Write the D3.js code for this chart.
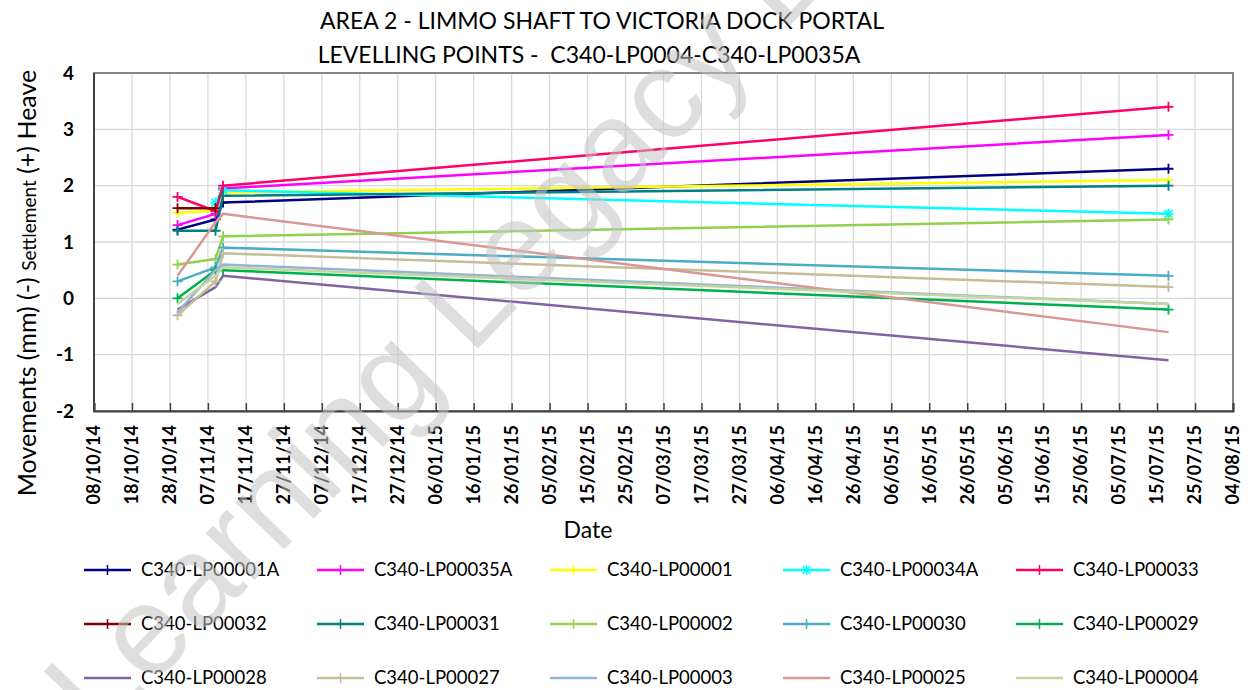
<!DOCTYPE html>
<html lang="en">
<head>
  <meta charset="UTF-8">
  <title>Area 2 - Limmo Shaft to Victoria Dock Portal</title>
  <script src="https://d3js.org/d3.v7.min.js"></script>
  <style>
    body { margin: 0; background: #fff; font-family: Lato, "Open Sans", sans-serif; }
    .grid line { stroke: #d9d9d9; stroke-width: 1.3; }
    .tick-label { font-size: 18px; font-weight: bold; fill: #000; }
    .legend text { font-size: 18.5px; fill: #000; }
  </style>
</head>
<body>
  <div id="chart"></div>
  <script>
    // survey dates and readings (mm)
    const dates = ["30/10/14", "09/11/14", "11/11/14", "18/07/15"];

    const seriesNames = [
      "C340-LP00001A", "C340-LP00035A", "C340-LP00001", "C340-LP00034A", "C340-LP00033",
      "C340-LP00032", "C340-LP00031", "C340-LP00002", "C340-LP00030", "C340-LP00029",
      "C340-LP00028", "C340-LP00027", "C340-LP00003", "C340-LP00025", "C340-LP00004"
    ];

    const lp00001A = [1.22, 1.40, 1.70, 2.30];
    const lp00035A = [1.30, 1.50, 1.95, 2.90];
    const lp00001  = [1.52, 1.55, 1.88, 2.10];
    const lp00034A = [null, 1.70, 1.92, 1.50];
    const lp00033  = [1.80, 1.55, 2.00, 3.40];
    const lp00032  = [1.60, 1.60, null, null];
    const lp00031  = [1.20, 1.20, 1.82, 2.00];
    const lp00002  = [0.60, 0.70, 1.10, 1.40];
    const lp00030  = [0.30, 0.55, 0.90, 0.40];
    const lp00029  = [0.00, 0.50, 0.50, -0.20];
    const lp00028  = [-0.20, 0.20, 0.40, -1.10];
    const lp00027  = [-0.30, 0.30, 0.80, 0.20];
    const lp00003  = [-0.25, 0.50, 0.60, -0.10];
    const lp00025  = [0.40, 1.35, 1.50, -0.60];
    const lp00004  = [-0.10, 0.40, 0.55, -0.10];

    const seriesValues = [
      lp00001A, lp00035A, lp00001, lp00034A, lp00033,
      lp00032, lp00031, lp00002, lp00030, lp00029,
      lp00028, lp00027, lp00003, lp00025, lp00004
    ];

    const colors = [
      "#000080", "#ff00ff", "#ffff00", "#00ffff", "#ff0066",
      "#800000", "#008080", "#92d050", "#4bacc6", "#00b050",
      "#8064a2", "#c4bd97", "#95b3d7", "#d99795", "#c3d69b"
    ];
    // marker type per series
    const markers = [
      "plus", "plus", "plus", "star", "plus",
      "plus", "plus", "plus", "plus", "plus",
      "none", "plus", "none", "none", "none"
    ];

    const tickLabels = [
      "08/10/14", "18/10/14", "28/10/14", "07/11/14", "17/11/14", "27/11/14", "07/12/14",
      "17/12/14", "27/12/14", "06/01/15", "16/01/15", "26/01/15", "05/02/15", "15/02/15",
      "25/02/15", "07/03/15", "17/03/15", "27/03/15", "06/04/15", "16/04/15", "26/04/15",
      "06/05/15", "16/05/15", "26/05/15", "05/06/15", "15/06/15", "25/06/15", "05/07/15",
      "15/07/15", "25/07/15", "04/08/15"
    ];
    const yTicks = [-2, -1, 0, 1, 2, 3, 4];

    const parse = d3.utcParse("%d/%m/%y");

    const W = 1252, H = 690;
    const plot = { left: 94, right: 1233, top: 73, bottom: 411 };

    const svg = d3.select("#chart").append("svg")
      .attr("width", W)
      .attr("height", H);

    const x = d3.scaleUtc()
      .domain([parse(tickLabels[0]), parse(tickLabels[tickLabels.length - 1])])
      .range([plot.left, plot.right]);

    const y = d3.scaleLinear()
      .domain([-2, 4])
      .range([plot.bottom, plot.top]);

    // gridlines
    const grid = svg.append("g").attr("class", "grid");
    grid.selectAll(".hg")
      .data(yTicks)
      .enter().append("line")
      .attr("x1", plot.left).attr("x2", plot.right)
      .attr("y1", d => y(d)).attr("y2", d => y(d));
    grid.selectAll(".vg")
      .data(tickLabels)
      .enter().append("line")
      .attr("x1", d => x(parse(d))).attr("x2", d => x(parse(d)))
      .attr("y1", plot.top).attr("y2", plot.bottom);

    // plot border
    svg.append("rect")
      .attr("x", plot.left).attr("y", plot.top)
      .attr("width", plot.right - plot.left)
      .attr("height", plot.bottom - plot.top)
      .attr("fill", "none")
      .attr("stroke", "#858585")
      .attr("stroke-width", 2);

    // x axis with inside ticks
    svg.append("g")
      .attr("transform", `translate(0,${plot.bottom})`)
      .call(d3.axisTop(x).tickValues(tickLabels.map(parse)).tickSize(8).tickFormat(""))
      .call(g => g.select(".domain").attr("stroke", "#404040").attr("stroke-width", 2))
      .call(g => g.selectAll(".tick line").attr("stroke", "#404040").attr("stroke-width", 1.5));

    // y axis line
    svg.append("line")
      .attr("x1", plot.left).attr("x2", plot.left)
      .attr("y1", plot.top).attr("y2", plot.bottom)
      .attr("stroke", "#404040").attr("stroke-width", 2);

    // x tick labels
    svg.append("g").selectAll("text")
      .data(tickLabels)
      .enter().append("text")
      .attr("class", "tick-label")
      .attr("transform", d => `translate(${x(parse(d))},${plot.bottom + 14}) rotate(-90)`)
      .attr("text-anchor", "end")
      .attr("dy", "0.35em")
      .text(d => d);

    // y tick labels
    svg.append("g").selectAll("text")
      .data(yTicks)
      .enter().append("text")
      .attr("class", "tick-label")
      .style("font-size", "19px")
      .attr("x", 74)
      .attr("y", d => y(d))
      .attr("dy", "0.35em")
      .attr("text-anchor", "end")
      .text(d => d);

    // series lines
    const line = d3.line()
      .defined(d => d.v !== null)
      .x(d => x(d.date))
      .y(d => y(d.v));

    const series = seriesNames.map((name, i) => ({
      name,
      color: colors[i],
      marker: markers[i],
      points: dates.map((dt, j) => ({ date: parse(dt), v: seriesValues[i][j] }))
    }));

    const plus = "M-5,0H5M0,-5V5";
    const star = "M-5,0H5M0,-5V5M-4,-4L4,4M-4,4L4,-4";

    const sg = svg.append("g");
    series.forEach(s => {
      sg.append("path")
        .attr("d", line(s.points))
        .attr("fill", "none")
        .attr("stroke", s.color)
        .attr("stroke-width", 2.5)
        .attr("stroke-linejoin", "round");
      if (s.marker !== "none") {
        sg.selectAll(null)
          .data(s.points.filter(p => p.v !== null))
          .enter().append("path")
          .attr("transform", p => `translate(${x(p.date)},${y(p.v)})`)
          .attr("d", s.marker === "star" ? star : plus)
          .attr("stroke", s.color)
          .attr("stroke-width", 1.8);
      }
    });

    // title
    svg.append("text")
      .attr("x", 602).attr("y", 29)
      .attr("text-anchor", "middle")
      .style("font-size", "23px")
      .text("AREA 2 - LIMMO SHAFT TO VICTORIA DOCK PORTAL");
    svg.append("text")
      .attr("x", 589).attr("y", 63)
      .attr("text-anchor", "middle")
      .style("font-size", "23px")
      .attr("xml:space", "preserve")
      .text("LEVELLING POINTS -  C340-LP0004-C340-LP0035A");

    // y axis title
    const yt = svg.append("text")
      .attr("transform", "translate(36,283) rotate(-90)")
      .attr("text-anchor", "middle")
      .style("font-size", "25px");
    yt.append("tspan").text("Movements (mm) (-) ");
    yt.append("tspan").style("font-size", "19px").text("Settlement");
    yt.append("tspan").text(" (+) Heave");

    // x axis title
    svg.append("text")
      .attr("x", 588).attr("y", 538)
      .attr("text-anchor", "middle")
      .style("font-size", "23px")
      .text("Date");

    // legend
    const legend = svg.append("g").attr("class", "legend");
    series.forEach((s, i) => {
      const col = i % 5, row = Math.floor(i / 5);
      const lx = 84 + col * 233, ly = 570 + row * 54;
      const g = legend.append("g").attr("transform", `translate(${lx},${ly})`);
      g.append("line")
        .attr("x1", 0).attr("x2", 47)
        .attr("stroke", s.color).attr("stroke-width", 2.5);
      if (s.marker !== "none") {
        g.append("path")
          .attr("transform", "translate(23.5,0)")
          .attr("d", s.marker === "star" ? star : plus)
          .attr("stroke", s.color)
          .attr("stroke-width", 1.5);
      }
      g.append("text")
        .attr("x", 57)
        .attr("dy", "0.35em")
        .text(s.name);
    });

    // watermark
    svg.append("text")
      .attr("transform", "translate(100,740) rotate(-46)")
      .style("font-size", "128px")
      .style("font-family", "'Liberation Sans', Arial, sans-serif")
      .attr("fill", "#c4c4c4")
      .attr("opacity", 0.55)
      .text("Learning Legacy Document");
  </script>
</body>
</html>
